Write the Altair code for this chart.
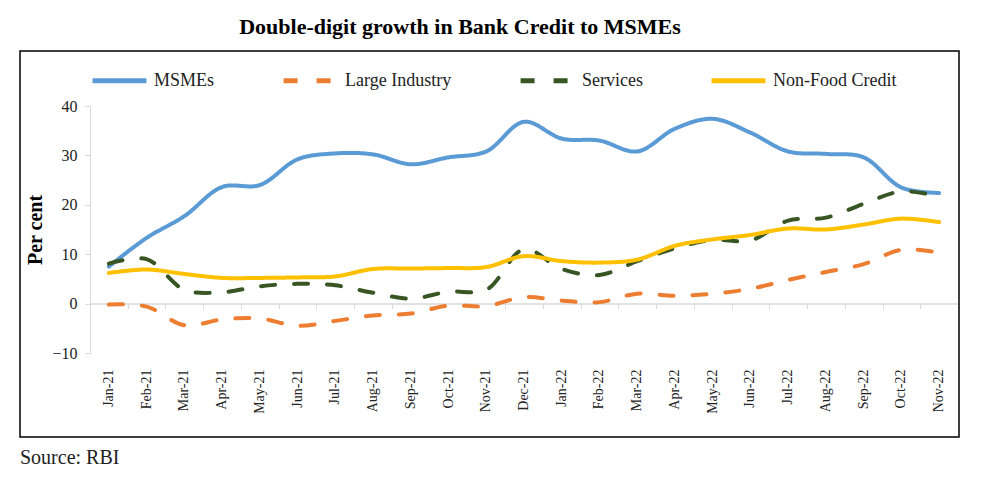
import altair as alt
import pandas as pd

months = ["Jan-21", "Feb-21", "Mar-21", "Apr-21", "May-21", "Jun-21", "Jul-21", "Aug-21",
          "Sep-21", "Oct-21", "Nov-21", "Dec-21", "Jan-22", "Feb-22", "Mar-22", "Apr-22",
          "May-22", "Jun-22", "Jul-22", "Aug-22", "Sep-22", "Oct-22", "Nov-22"]
series = ["MSMEs", "Large Industry", "Services", "Non-Food Credit"]
msme = [7.5, 13.3, 17.7, 23.6, 24.0, 29.2, 30.4, 30.2, 28.2, 29.6, 30.8, 36.8,
        33.4, 33.0, 30.8, 35.4, 37.4, 34.6, 30.8, 30.3, 29.6, 23.5, 22.4]
large = [-0.2, -0.6, -4.4, -3.2, -3.0, -4.5, -3.5, -2.4, -2.0, -0.4, -0.5, 1.3,
         0.6, 0.3, 2.0, 1.6, 2.0, 3.0, 4.8, 6.4, 8.0, 10.9, 10.3]
services = [8.1, 9.0, 2.8, 2.3, 3.5, 4.0, 3.7, 2.2, 1.0, 2.4, 2.8, 11.0,
            7.0, 5.8, 8.6, 11.2, 12.9, 12.8, 16.8, 17.4, 20.2, 22.7, 21.7]
nonfood = [6.2, 6.9, 6.0, 5.2, 5.2, 5.3, 5.5, 7.0, 7.1, 7.2, 7.4, 9.6,
           8.6, 8.3, 8.9, 11.7, 13.0, 13.9, 15.2, 15.0, 16.0, 17.2, 16.5]
colors = ["#5B9BD5", "#ED7D31", "#375623", "#FFC000"]
dashes = [[1, 0], [14, 19], [14, 19], [1, 0]]
title_text = ["Double-digit growth in Bank Credit to MSMEs"]
source_text = ["Source: RBI"]

rows = []
for name, vals in zip(series, [msme, large, services, nonfood]):
    for m, v in zip(months, vals):
        rows.append({"month": m, "value": v, "series": name})
df = pd.DataFrame(rows)

FONT = "Liberation Serif"
W, H = 868, 247

xscale = alt.Scale(type="band", paddingInner=0, paddingOuter=0, domain=months)
yscale = alt.Scale(domain=[-10, 40], nice=False)

leg = alt.Legend(orient="top", direction="horizontal", title=None, symbolType="stroke",
                 symbolSize=2900, symbolStrokeWidth=5, labelFont=FONT, labelFontSize=18,
                 labelColor="#222222", columnPadding=58, labelOffset=5, offset=15)

lines = alt.Chart(df).mark_line(strokeWidth=4, strokeCap="round", interpolate="catmull-rom").encode(
    x=alt.X("month:N", sort=months, scale=xscale, bandPosition=0.5,
            axis=alt.Axis(title=None, orient="bottom", domain=False, ticks=False, labelAngle=-90,
                          labelFont=FONT, labelFontSize=14, labelColor="#222222",
                          labelPadding=16)),
    y=alt.Y("value:Q", scale=yscale,
            axis=alt.Axis(values=[-10, 0, 10, 20, 30, 40], grid=False, domainColor="#d9d9d9",
                          tickColor="#d9d9d9", tickSize=5, labelFont=FONT, labelFontSize=16,
                          labelColor="#222222", labelPadding=8, title="Per cent",
                          titleFont=FONT, titleFontSize=20, titleFontWeight="bold",
                          titleColor="#000000", titlePadding=6)),
    color=alt.Color("series:N", scale=alt.Scale(domain=series, range=colors), legend=leg),
    strokeDash=alt.StrokeDash("series:N", scale=alt.Scale(domain=series, range=dashes), legend=leg),
)

zero_axis = alt.Chart(pd.DataFrame({"month": months})).mark_point(opacity=0).encode(
    x=alt.X("month:N", sort=months, scale=xscale,
            axis=alt.Axis(title=None, orient="bottom", labels=False, domainColor="#d9d9d9",
                          domainWidth=1.5, tickColor="#d9d9d9", tickSize=5, tickBand="extent",
                          offset=-H * 10 / 50)),
    y=alt.datum(0),
)

frame = alt.Chart(pd.DataFrame({"t": [1]})).mark_rect(fill="white", fillOpacity=0, stroke="#000000",
                                                     strokeWidth=1.5).encode(
    x=alt.value(-70), x2=alt.value(869), y=alt.value(-55), y2=alt.value(331))

title = alt.Chart(pd.DataFrame({"t": title_text})).mark_text(
    font=FONT, fontSize=22, fontWeight="bold", align="center", baseline="middle", color="#000000"
).encode(x=alt.value(370), y=alt.value(-79), text="t:N")

source = alt.Chart(pd.DataFrame({"t": source_text})).mark_text(
    font=FONT, fontSize=20, align="left", baseline="middle", color="#222222"
).encode(x=alt.value(-70), y=alt.value(352), text="t:N")

chart = alt.layer(frame, zero_axis, lines, title, source).resolve_axis(x="independent").properties(
    width=W, height=H, padding={"left": 11, "top": 8, "right": 5, "bottom": 5}
).configure_view(stroke=None)

chart.save("out.html", embed_options={"renderer": "svg", "actions": False})
